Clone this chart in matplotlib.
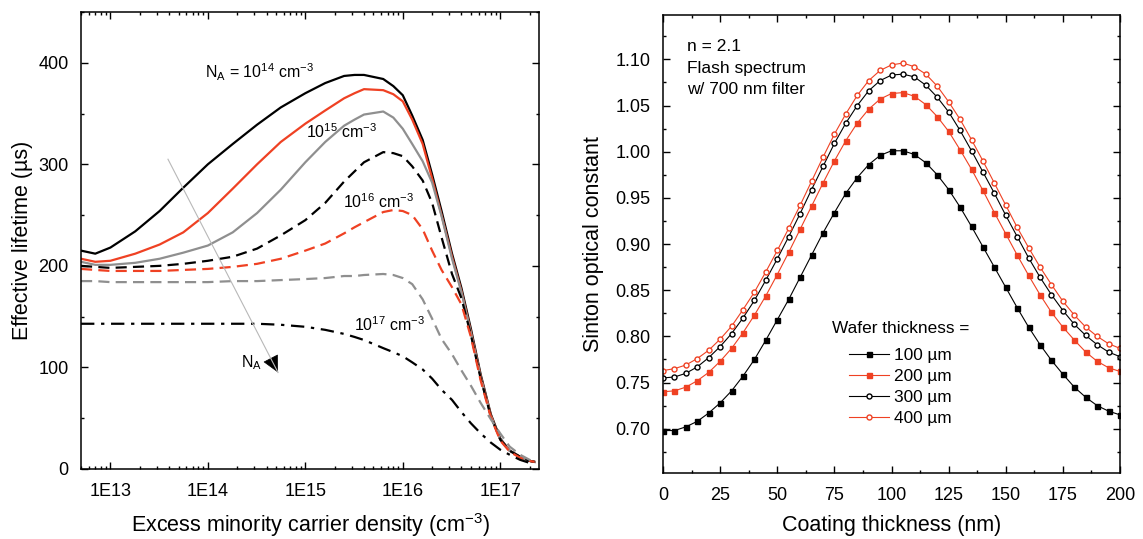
import math
import matplotlib
matplotlib.use('Agg')
from matplotlib import pyplot as plt
from matplotlib import ticker
from matplotlib.patches import FancyArrowPatch

plt.rcParams['font.family'] = ['Liberation Sans', 'DejaVu Sans']
plt.rcParams['mathtext.fontset'] = 'custom'
plt.rcParams['mathtext.rm'] = 'Liberation Sans'
plt.rcParams['mathtext.it'] = 'Liberation Sans:italic'
plt.rcParams['mathtext.default'] = 'regular'

RED = '#ef4123'
GRAY = '#8f8f8f'

# left panel: effective lifetime (us) vs excess minority carrier density (cm-3)
density = [5e12, 7e12, 1e13, 1.8e13, 3.2e13, 5.6e13, 1e14, 1.8e14, 3.2e14, 5.6e14,
           1e15, 1.6e15, 2.5e15, 3.2e15, 4e15, 6.3e15, 8e15, 1e16, 1.25e16, 1.6e16,
           2e16, 2.5e16, 3.2e16, 4e16, 5e16, 6.3e16, 8e16, 1e17, 1.25e17, 1.6e17,
           2e17, 2.25e17]
tau_black = [215, 212, 218, 234, 254, 277, 300, 320, 339, 356,
             370, 380, 387, 388, 388, 384, 377, 368, 348, 324,
             290, 254, 212, 178, 138, 93, 54, 30, 18, 12,
             8, 7]
tau_red = [207, 204, 205, 212, 221, 233, 252, 276, 300, 322,
           340, 353, 365, 370, 374, 373, 369, 362, 344, 320,
           286, 250, 209, 175, 135, 91, 53, 29, 18, 12,
           8, 7]
tau_gray = [204, 201, 201, 203, 207, 213, 220, 233, 252, 275,
            302, 322, 338, 344, 349, 352, 346, 335, 320, 303,
            282, 249, 207, 174, 134, 90, 52, 29, 18, 12,
            8, 7]
tau_black_dash = [200, 199, 198, 199, 200, 202, 205, 209, 217, 230,
                  245, 262, 283, 293, 302, 312, 311, 308, 298, 284,
                  262, 228, 192, 168, 132, 89, 52, 29, 18, 12,
                  8, 7]
tau_red_dash = [197, 196, 195, 195, 195, 196, 197, 199, 202, 207,
                215, 222, 232, 238, 243, 253, 255, 254, 250, 236,
                215, 196, 179, 162, 130, 87, 51, 28, 17, 11,
                8, 7]
tau_gray_dash = [185, 185, 184, 184, 184, 184, 184, 185, 185, 186,
                 187, 188, 190, 190, 191, 192, 191, 188, 182, 167,
                 148, 128, 113, 97, 82, 65, 49, 35, 22, 14,
                 9, 7]
tau_dashdot = [143, 143, 143, 143, 143, 143, 143, 143, 143, 142,
               140, 137, 133, 130, 127, 119, 115, 111, 105, 98,
               89, 78, 68, 56, 45, 35, 26, 19, 14, 9,
               6, 5]

# right panel: Sinton optical constant vs coating thickness (nm)
coating = list(range(0, 205, 5))
k_100 = [0.698, 0.698, 0.702, 0.708, 0.717, 0.728, 0.741, 0.757, 0.775, 0.796, 0.818,
         0.840, 0.864, 0.888, 0.912, 0.934, 0.955, 0.972, 0.986, 0.996, 1.001, 1.001,
         0.997, 0.988, 0.975, 0.959, 0.940, 0.919, 0.897, 0.875, 0.853, 0.831, 0.810,
         0.791, 0.774, 0.759, 0.745, 0.734, 0.725, 0.719, 0.715]
k_200 = [0.740, 0.741, 0.745, 0.752, 0.761, 0.773, 0.787, 0.804, 0.823, 0.844, 0.867,
         0.891, 0.916, 0.941, 0.966, 0.990, 1.012, 1.031, 1.046, 1.057, 1.063, 1.064,
         1.060, 1.051, 1.038, 1.022, 1.002, 0.981, 0.958, 0.934, 0.911, 0.888, 0.866,
         0.845, 0.826, 0.810, 0.796, 0.783, 0.773, 0.766, 0.762]
k_300 = [0.755, 0.756, 0.760, 0.767, 0.777, 0.789, 0.803, 0.820, 0.839, 0.861, 0.884,
         0.908, 0.933, 0.959, 0.984, 1.009, 1.031, 1.050, 1.066, 1.077, 1.083, 1.084,
         1.081, 1.072, 1.059, 1.043, 1.023, 1.001, 0.978, 0.955, 0.931, 0.908, 0.885,
         0.864, 0.845, 0.828, 0.813, 0.801, 0.791, 0.783, 0.778]
k_400 = [0.763, 0.765, 0.769, 0.776, 0.785, 0.797, 0.811, 0.829, 0.848, 0.870, 0.893,
         0.917, 0.942, 0.968, 0.994, 1.019, 1.041, 1.061, 1.077, 1.088, 1.094, 1.096,
         1.092, 1.084, 1.071, 1.054, 1.035, 1.013, 0.990, 0.966, 0.942, 0.918, 0.896,
         0.875, 0.856, 0.838, 0.823, 0.810, 0.800, 0.792, 0.787]
wafer_labels = ['100 µm', '200 µm', '300 µm', '400 µm']

fig = plt.figure(figsize=(11.43, 5.39), dpi=100)
ax1 = fig.add_axes([0.0709, 0.1299, 0.4007, 0.8479])
ax2 = fig.add_axes([0.5801, 0.1224, 0.3998, 0.8497])

for ax in (ax1, ax2):
    ax.tick_params(which='both', direction='in', top=True, right=True, labelsize=13,
                   width=1.0)
    ax.tick_params(which='major', length=5)
    ax.tick_params(which='minor', length=2.5)
    ax.tick_params(axis='x', which='major', pad=10)
    ax.tick_params(axis='y', which='major', pad=9)
    for sp in ax.spines.values():
        sp.set_linewidth(1.1)

# ---- left panel
lw = 1.6
dash = (5, 2.8)
ax1.plot(density, tau_black, color='black', lw=lw)
ax1.plot(density, tau_red, color=RED, lw=lw)
ax1.plot(density, tau_gray, color=GRAY, lw=lw)
ax1.plot(density, tau_black_dash, color='black', lw=lw, dashes=dash)
ax1.plot(density, tau_red_dash, color=RED, lw=lw, dashes=dash)
ax1.plot(density, tau_gray_dash, color=GRAY, lw=lw, dashes=dash)
ax1.plot(density, tau_dashdot, color='black', lw=lw, dashes=(6, 3, 1.5, 3))

ax1.set_xscale('log')
ax1.set_xlim(5.0e12, 2.5e17)
ax1.set_ylim(0, 450)
ax1.xaxis.set_major_locator(ticker.FixedLocator([1e13, 1e14, 1e15, 1e16, 1e17]))
ax1.xaxis.set_major_formatter(ticker.FuncFormatter(lambda v, p: '1E%d' % round(math.log10(v))))
ax1.xaxis.set_minor_locator(ticker.LogLocator(base=10, subs=range(2, 10), numticks=20))
ax1.xaxis.set_minor_formatter(ticker.NullFormatter())
ax1.yaxis.set_major_locator(ticker.MultipleLocator(100))
ax1.yaxis.set_minor_locator(ticker.MultipleLocator(50))
ax1.set_xlabel('Excess minority carrier density (cm$^{-3}$)', fontsize=15.5, labelpad=8)
ax1.set_ylabel('Effective lifetime (µs)', fontsize=15.5, labelpad=4)

ax1.text(9.3e13, 385, 'N$_{A}$ = 10$^{14}$ cm$^{-3}$', fontsize=11.5)
ax1.text(1.02e15, 326, '10$^{15}$ cm$^{-3}$', fontsize=11.5)
ax1.text(2.45e15, 257, '10$^{16}$ cm$^{-3}$', fontsize=11.5)
ax1.text(3.15e15, 136, '10$^{17}$ cm$^{-3}$', fontsize=11.5)
ax1.text(2.2e14, 100, 'N$_{A}$', fontsize=11.5)

# trend arrow: thin grey shaft with a black head
arr_start = (3.9e13, 305)
arr_end = (5.25e14, 95)
ax1.plot([arr_start[0], arr_end[0]], [arr_start[1], arr_end[1]], color='#b8b8b8', lw=0.8)
head_from = (10 ** (14.72 - 0.06 * 1.13), 95 + 0.06 * 210)
ax1.add_patch(FancyArrowPatch(head_from, arr_end, arrowstyle='-|>,head_length=0.9,head_width=0.45',
                              color='black', lw=0.5, mutation_scale=12, shrinkA=0, shrinkB=0))

# ---- right panel
ms = 3.6
ax2.plot(coating, k_100, color='black', lw=0.8, marker='s', ms=ms, mec='black', mfc='black',
         label=wafer_labels[0])
ax2.plot(coating, k_200, color=RED, lw=0.8, marker='s', ms=ms, mec=RED, mfc=RED,
         label=wafer_labels[1])
ax2.plot(coating, k_300, color='black', lw=0.8, marker='o', ms=ms, mec='black', mfc='white',
         mew=1.0, label=wafer_labels[2])
ax2.plot(coating, k_400, color=RED, lw=0.8, marker='o', ms=ms, mec=RED, mfc='white',
         mew=1.0, label=wafer_labels[3])

ax2.set_xlim(0, 200)
ax2.set_ylim(0.652, 1.148)
ax2.xaxis.set_major_locator(ticker.MultipleLocator(25))
ax2.xaxis.set_minor_locator(ticker.MultipleLocator(12.5))
ax2.yaxis.set_major_locator(ticker.MultipleLocator(0.05))
ax2.yaxis.set_minor_locator(ticker.MultipleLocator(0.025))
ax2.yaxis.set_major_formatter(ticker.FormatStrFormatter('%.2f'))
ax2.set_xlabel('Coating thickness (nm)', fontsize=15.5, labelpad=8)
ax2.set_ylabel('Sinton optical constant', fontsize=15.5, labelpad=8)

ax2.text(10.5, 1.114, 'n = 2.1', fontsize=12.5, va='center')
ax2.text(10.5, 1.090, 'Flash spectrum', fontsize=12.5, va='center')
ax2.text(10.5, 1.067, 'w/ 700 nm filter', fontsize=12.5, va='center')

leg = ax2.legend(title='Wafer thickness =', loc='lower center', bbox_to_anchor=(0.52, 0.077),
                 frameon=False, fontsize=12.4, title_fontsize=12.4, handlelength=2.3,
                 handletextpad=0.3, labelspacing=0.33, borderpad=0.2)
leg._legend_box.sep = 9

fig.savefig('out.png', dpi=100)
